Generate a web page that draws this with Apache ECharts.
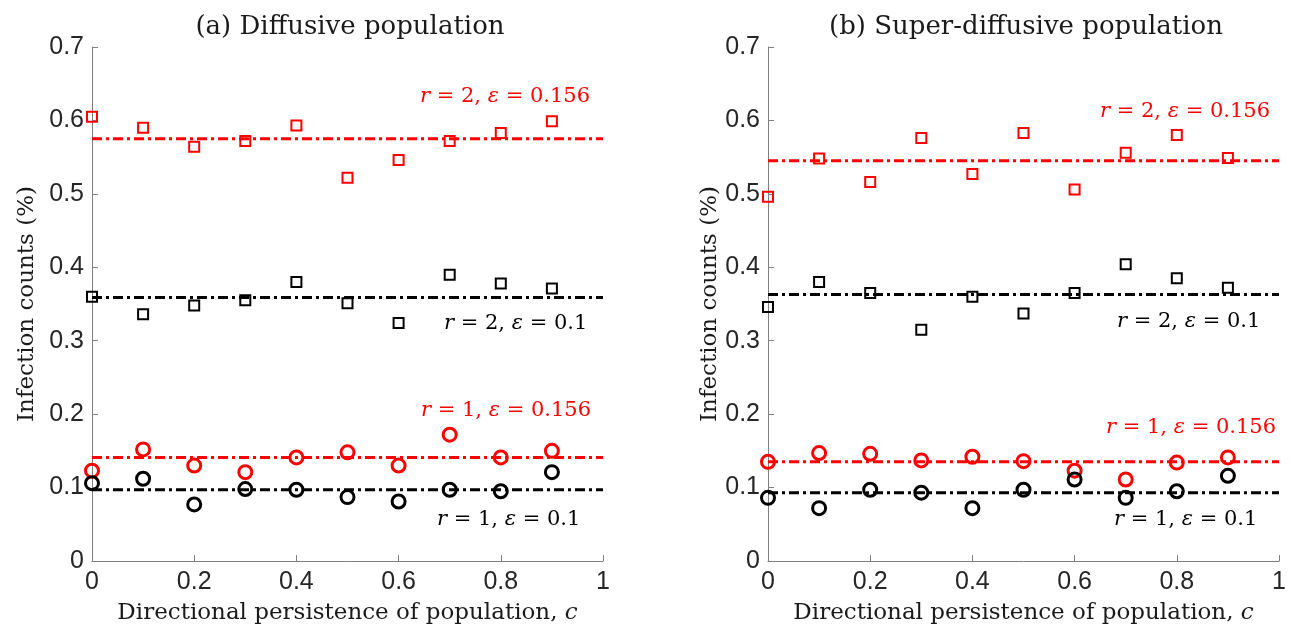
<!DOCTYPE html>
<html><head><meta charset="utf-8">
<script src="https://cdn.jsdelivr.net/npm/echarts@6/dist/echarts.min.js"></script>
<style>html,body{margin:0;padding:0;background:#fff}#c{width:1295px;height:630px}</style>
</head><body><div id="c"></div>
<script>
var xs = [0, 0.1, 0.2, 0.3, 0.4, 0.5, 0.6, 0.7, 0.8, 0.9];
var lineX = [0, 1];
// (a) Diffusive population
var a_r2e156 = [0.605, 0.590, 0.564, 0.572, 0.593, 0.522, 0.546, 0.572, 0.583, 0.599];
var a_r2e1   = [0.360, 0.336, 0.348, 0.355, 0.380, 0.351, 0.324, 0.390, 0.378, 0.371];
var a_r1e156 = [0.123, 0.152, 0.130, 0.121, 0.141, 0.148, 0.130, 0.172, 0.141, 0.150];
var a_r1e1   = [0.106, 0.112, 0.077, 0.098, 0.097, 0.087, 0.081, 0.097, 0.095, 0.121];
var a_means  = [0.575, 0.359, 0.141, 0.097];
// (b) Super-diffusive population
var b_r2e156 = [0.496, 0.548, 0.516, 0.576, 0.527, 0.583, 0.506, 0.556, 0.580, 0.549];
var b_r2e1   = [0.346, 0.380, 0.365, 0.315, 0.360, 0.337, 0.365, 0.404, 0.385, 0.372];
var b_r1e156 = [0.135, 0.147, 0.146, 0.137, 0.142, 0.136, 0.123, 0.111, 0.134, 0.141];
var b_r1e1   = [0.086, 0.072, 0.097, 0.093, 0.072, 0.097, 0.111, 0.086, 0.095, 0.116];
var b_means  = [0.545, 0.363, 0.135, 0.093];
var titles = ['(a) Diffusive population', '(b) Super-diffusive population'];
var xName = 'Directional persistence of population, ';
var yName = 'Infection counts (%)';
var labels = [['2', '0.156'], ['2', '0.1'], ['1', '0.156'], ['1', '0.1']];

var RED = '#ff0000', BLK = '#000000';
var serif = '"DejaVu Serif","Liberation Serif",serif';
var sans = '"Liberation Sans",Arial,sans-serif';
var axisGray = '#808080';

function pts(v){ return xs.map(function(x,i){ return [x, v[i]]; }); }
function hline(v){ return lineX.map(function(x){ return [x, v]; }); }

var grids = [
  {left: 92, right: 692, top: 47, bottom: 69},
  {left: 768, right: 16, top: 47, bottom: 69}
];
function xAxis(g){
  return {type:'value', gridIndex:g, min:0, max:1, interval:0.2,
    name: xName + '{i|c}', nameLocation:'middle', nameGap: 41,
    nameTextStyle:{fontFamily:serif, fontSize:23, color:'#1a1a1a',
      rich:{i:{fontFamily:serif, fontStyle:'italic', fontSize:23, color:'#1a1a1a'}}},
    axisLine:{show:true, lineStyle:{color:axisGray, width:1}},
    axisTick:{show:true, inside:true, length:6, lineStyle:{color:axisGray}},
    axisLabel:{fontFamily:sans, fontSize:25, color:'#262626', margin:9,
      formatter:function(v){ return String(+v.toFixed(1)); }},
    splitLine:{show:false}};
}
function yAxis(g){
  return {type:'value', gridIndex:g, min:0, max:0.7, interval:0.1,
    name: yName, nameLocation:'middle', nameGap: g===0 ? 53 : 45,
    nameTextStyle:{fontFamily:serif, fontSize:23, color:'#1a1a1a'},
    axisLine:{show:true, lineStyle:{color:axisGray, width:1}},
    axisTick:{show:true, inside:true, length:6, lineStyle:{color:axisGray}},
    axisLabel:{fontFamily:sans, fontSize:25, color:'#262626', margin:8,
      formatter:function(v){ return String(+v.toFixed(1)); }},
    splitLine:{show:false}};
}
function scatter(g, v, sym, color){
  return {type:'scatter', xAxisIndex:g, yAxisIndex:g, data:pts(v), symbol:sym,
    symbolSize: sym==='circle'?13:10, z:3,
    itemStyle:{color:'rgba(255,255,255,0)', opacity:1, borderColor:color, borderWidth: sym==='circle'?3:2}};
}
function mline(g, v, color){
  return {type:'line', xAxisIndex:g, yAxisIndex:g, data:hline(v), symbol:'none', z:2,
    lineStyle:{color:color, width:3, type:[10,4,3,4]}};
}
var series = [];
var sets = [[a_r2e156,a_r2e1,a_r1e156,a_r1e1,a_means],[b_r2e156,b_r2e1,b_r1e156,b_r1e1,b_means]];
for (var g=0; g<2; g++){
  var s = sets[g];
  series.push(mline(g, s[4][0], RED), mline(g, s[4][1], BLK), mline(g, s[4][2], RED), mline(g, s[4][3], BLK));
  series.push(scatter(g, s[0], 'rect', RED), scatter(g, s[1], 'rect', BLK),
              scatter(g, s[2], 'circle', RED), scatter(g, s[3], 'circle', BLK));
}

function ann(text, x, y, color){
  return {type:'text', x:x, y:y, z:10,
    style:{text:text, fill:color, font:'21px ' + serif, verticalAlign:'middle',
      rich:{i:{fontStyle:'italic', fontFamily:serif, fontSize:21, fill:color},
            n:{fontFamily:serif, fontSize:21, fill:color}}}};
}
function lab(k){ return '{i|r}{n| = ' + labels[k][0] + ', }{i|ε}{n| = ' + labels[k][1] + '}'; }
var annPos = [
  [[420, 97], [444, 324], [421, 411], [437, 520]],
  [[1100, 112], [1117, 322], [1106, 428], [1114, 520]]
];
var annColor = [RED, BLK, RED, BLK];
var graphics = [];
for (var g2=0; g2<2; g2++) for (var k=0; k<4; k++)
  graphics.push(ann(lab(k), annPos[g2][k][0], annPos[g2][k][1], annColor[k]));

var chart = echarts.init(document.getElementById('c'), null, {renderer:'canvas'});
chart.setOption({
  animation:false,
  backgroundColor:'#fff',
  title:[
    {text:titles[0], left:345, top:9, textAlign:'center', textStyle:{fontFamily:serif, fontSize:26, fontWeight:'normal', color:'#1a1a1a'}},
    {text:titles[1], left:1021, top:9, textAlign:'center', textStyle:{fontFamily:serif, fontSize:26, fontWeight:'normal', color:'#1a1a1a'}}
  ],
  grid:grids,
  xAxis:[xAxis(0), xAxis(1)],
  yAxis:[yAxis(0), yAxis(1)],
  series:series,
  graphic:graphics
});
</script></body></html>
